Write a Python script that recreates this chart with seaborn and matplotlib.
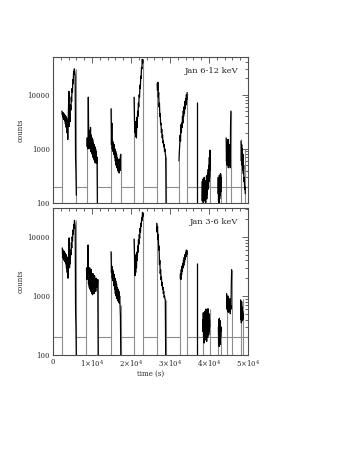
import numpy as np
import pandas as pd
import seaborn as sns
import matplotlib.pyplot as plt
from matplotlib.ticker import FixedLocator, MultipleLocator, LogLocator, NullFormatter

# observation windows (s)
top_bounds = [(2300, 6000), (8700, 11400), (14900, 17400), (20800, 23100), (26700, 29000),
              (32300, 34400), (38200, 40300), (42300, 43100), (44400, 45600), (48200, 49300)]
bot_bounds = [(2400, 6000), (8600, 11600), (14900, 17400), (20800, 23150), (26600, 28900),
              (32600, 34400), (38400, 40200), (42400, 43100), (44500, 45800), (48100, 48800)]

# Jan 6-12 keV counts per window
top_counts = [
    [5000, 4300, 4700, 3800, 4600, 3500, 4400, 3300, 4200, 2900, 4000, 2500, 3700, 2000, 3400, 1500, 3200,
     6000, 11500, 2600, 4500, 3200, 6500, 5200, 9000, 7500, 13000, 11000, 19000, 16000, 27000, 24000,
     30000, 26000, 22000, 700, 400, 140],
    [1600, 1100, 1500, 1000, 9000, 1400, 2200, 1200, 1900, 1000, 2500, 900, 1800, 850, 1600, 800, 1500,
     700, 1300, 650, 1200, 600, 1100, 550, 1000, 600, 900, 550, 700, 90],
    [5500, 1200, 3000, 1000, 1400, 900, 1300, 800, 1200, 700, 1000, 600, 900, 500, 800, 450, 700, 400,
     650, 380, 600, 360, 650, 400, 750, 800],
    [9000, 3500, 2000, 3200, 1700, 3000, 1600, 3800, 2500, 5000, 4000, 7000, 6000, 10000, 9000, 15000,
     13000, 22000, 20000, 32000, 30000, 45000, 38000, 44000],
    [16000, 12000, 17000, 9000, 11000, 6000, 7000, 4000, 4500, 2800, 3000, 2000, 2300, 1600, 1800, 1300,
     1400, 1100, 1200, 900, 1000, 800, 750, 90],
    [600, 900, 1200, 1800, 1400, 2800, 2000, 3000, 2500, 4000, 3000, 5000, 4000, 6000, 4500, 7500, 5500,
     8500, 6500, 10000, 8000, 11000],
    [250, 110, 200, 120, 280, 100, 180, 150, 300, 110, 220, 130, 260, 100, 190, 140, 320, 120, 240, 150,
     350, 180, 420, 200, 500, 250, 700, 300, 950, 400],
    [150, 300, 110, 250, 100, 330, 120, 280, 140, 350, 160, 300],
    [1600, 600, 1300, 500, 1100, 700, 1500, 450, 900, 600, 1200, 500, 800, 450, 2500, 5000],
    [1400, 600, 1200, 500, 1000, 400, 800, 350, 500, 250, 300, 180, 200, 150],
]

# Jan 3-6 keV counts per window
bot_counts = [
    [6500, 4500, 6000, 4200, 5800, 4000, 5500, 3800, 5200, 3500, 5000, 3000, 4600, 2500, 4200, 2000, 3800,
     5000, 9600, 3000, 4800, 3500, 6000, 5000, 8000, 6500, 10000, 8500, 13000, 11000, 16000, 14000,
     19000, 17000, 15000, 580, 300, 90],
    [3000, 1900, 2800, 2000, 7300, 1600, 2500, 1400, 3000, 1300, 2600, 1200, 2800, 1100, 2200, 1050, 2400,
     1200, 2000, 1100, 2200, 1300, 1900, 1200, 2000, 1400, 1800, 1500, 1900, 90],
    [5600, 2500, 3200, 2000, 2800, 1800, 2600, 1500, 2300, 1300, 2000, 1100, 1800, 1000, 1600, 900, 1400,
     850, 1300, 800, 1200, 760, 1000, 700, 450, 90],
    [9200, 5000, 2200, 4500, 2500, 5000, 3000, 5500, 4000, 7000, 5500, 9000, 7500, 11000, 9500, 14000,
     12000, 17000, 15000, 21000, 19000, 26000, 22000, 25000],
    [17000, 12000, 15000, 9000, 11000, 6000, 7000, 3400, 4000, 2400, 2800, 1900, 2100, 1500, 1700, 1300,
     1400, 1100, 1200, 950, 1000, 900, 860, 90],
    [2000, 2400, 1900, 2800, 2300, 3200, 2600, 3500, 3000, 4000, 3300, 4500, 3800, 5000, 4200, 5500, 4600,
     6000, 5000, 5800],
    [400, 250, 520, 200, 450, 160, 380, 220, 550, 180, 420, 250, 600, 200, 350, 170, 480, 230, 520, 200,
     610, 260, 450, 220, 500, 250, 400, 300],
    [300, 160, 400, 140, 420, 180, 350, 150, 380, 200, 300, 250],
    [1100, 600, 900, 550, 1000, 530, 800, 600, 700, 550, 900, 500, 700, 600, 1500, 2800],
    [860, 400, 700, 350, 800, 450, 650, 380, 550, 400, 500, 450],
]

# heights reached by the window edge markers (start, end)
top_edges = [(5000, 30000), (1600, 700), (5700, 800), (9000, 45000), (17000, 700),
             (600, 11000), (250, 950), (300, 350), (1600, 5000), (1500, 1000)]
bot_edges = [(6500, 19000), (3000, 1900), (5600, 700), (9200, 26000), (17000, 860),
             (2000, 6000), (400, 600), (300, 300), (1100, 2800), (860, 900)]

# isolated single-bin spike
spike_time = [36900]
top_spike = [7400]
bot_spike = [3600]

background = 200
n_bright = 6  # background marker drawn between the bright windows and after them

x_ticks = [0, 10000, 20000, 30000, 40000, 50000]
x_labels = ['0', '1×10$^4$', '2×10$^4$', '3×10$^4$', '4×10$^4$', '5×10$^4$']
y_ticks = [100, 1000, 10000]
y_labels = ['100', '1000', '10000']

sns.set_style('white')
plt.rcParams['font.family'] = ['DejaVu Serif']
plt.rcParams['mathtext.fontset'] = 'dejavuserif'


def draw_panel(ax, bounds, counts, edges, spike, label, ymax, show_x):
    rows = []
    for i, ((t0, t1), vals) in enumerate(zip(bounds, counts)):
        for t, v in zip(np.linspace(t0, t1, len(vals)), vals):
            rows.append({'time': t, 'counts': v, 'seg': i})
    df = pd.DataFrame(rows)

    # background level in the gaps
    gaps_x0 = [0] + [b[1] for b in bounds[:n_bright]]
    gaps_x1 = [b[0] for b in bounds[:n_bright]] + [50000]
    ax.hlines([background] * len(gaps_x0), gaps_x0, gaps_x1, color='0.55', lw=0.8, zorder=1)

    # window edges
    starts = [b[0] for b in bounds]
    ends = [b[1] for b in bounds]
    ax.vlines(starts, 50, [e[0] for e in edges], color='0.55', lw=0.8, zorder=1)
    ax.vlines(ends, 50, [e[1] for e in edges], color='0.55', lw=0.8, zorder=1)

    sns.lineplot(data=df, x='time', y='counts', units='seg', estimator=None,
                 color='black', lw=0.9, ax=ax, zorder=3)
    ax.vlines(spike_time, 50, spike, color='black', lw=0.9, zorder=3)

    ax.set_yscale('log')
    ax.set_xlim(0, 50000)
    ax.set_ylim(100, ymax)
    ax.yaxis.set_major_locator(FixedLocator(y_ticks))
    ax.set_yticklabels(y_labels)
    ax.yaxis.set_minor_locator(LogLocator(base=10, subs=np.arange(2, 10)))
    ax.yaxis.set_minor_formatter(NullFormatter())
    ax.xaxis.set_major_locator(FixedLocator(x_ticks))
    ax.xaxis.set_minor_locator(MultipleLocator(2000))
    if show_x:
        ax.set_xticklabels(x_labels)
        ax.set_xlabel('time (s)', fontsize=5, labelpad=1)
    else:
        ax.set_xticklabels([])
        ax.set_xlabel('')
    ax.set_ylabel('counts', fontsize=5, labelpad=2)
    ax.tick_params(which='both', direction='in', top=True, right=True, labelsize=5,
                   width=0.5, pad=2)
    ax.tick_params(which='major', length=4)
    ax.tick_params(which='minor', length=2)
    for s in ax.spines.values():
        s.set_linewidth(0.8)
        s.set_color('0.3')
    ax.text(0.95, 0.93, label, transform=ax.transAxes, ha='right', va='top', fontsize=6)


fig = plt.figure(figsize=(3.6, 4.66), dpi=100)
ax_top = fig.add_axes([0.147, 0.564, 0.542, 0.314])
ax_bot = fig.add_axes([0.147, 0.238, 0.542, 0.316])

draw_panel(ax_top, top_bounds, top_counts, top_edges, top_spike, 'Jan 6-12 keV', 50000, False)
draw_panel(ax_bot, bot_bounds, bot_counts, bot_edges, bot_spike, 'Jan 3-6 keV', 31000, True)

fig.savefig('out.png', dpi=100)
